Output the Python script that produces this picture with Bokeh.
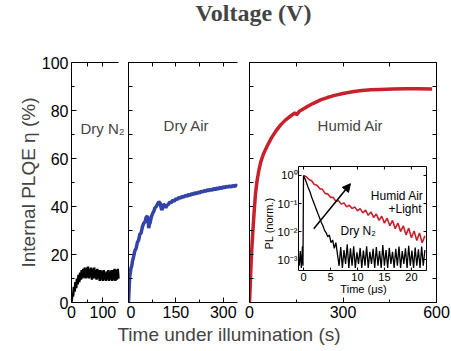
import math
from bokeh.plotting import figure
from bokeh.layouts import row, column
from bokeh.models import Range1d, LogScale, LinearAxis, FixedTicker, Label, Arrow, NormalHead
from bokeh.core.properties import value
from bokeh.embed import file_html
from bokeh.resources import INLINE

# ---------------- data ----------------
n2_t = [0, 2.5, 5, 7.5, 10, 12.5, 15, 17.5, 20, 22.5, 25, 27.5, 30, 32.5, 35, 37.5, 40, 42.5, 45, 47.5,
        50, 52.5, 55, 57.5, 60, 62.5, 65, 67.5, 70, 72.5, 75, 77.5, 80, 82.5, 85, 87.5, 90, 92.5, 95, 97.5,
        100, 102.5, 105, 107.5, 110, 112.5, 115, 117.5, 120, 122.5, 125, 127.5, 130, 132.5, 135, 137.5,
        140, 142.5, 145, 147.5, 150]
n2_eta = [0, 3.5, 2.5, 6.5, 4.5, 8.5, 6, 10, 7.5, 11.5, 8.5, 12.5, 9.5, 13.5, 10, 14, 10.5, 14.5, 10, 14.5,
          10.5, 15, 10, 14, 10.5, 14.5, 9.5, 14, 10, 14.5, 10, 13.5, 9.5, 14, 10, 13.5, 9, 13.5, 9.5, 13,
          9, 13.5, 9.5, 12.5, 9, 13, 9.5, 13.5, 9, 13, 9.5, 13.5, 9, 13.5, 9.5, 14,
          9, 13.5, 9.5, 14, 10]

air_t = [0, 2, 4, 6, 8, 10, 13, 16, 20, 24, 28, 32, 36, 40, 44, 48, 52, 56, 60, 62, 64, 66, 68, 72, 76, 80,
         84, 88, 92, 96, 100, 103, 106, 110, 114, 118, 122, 126, 130, 135, 140, 145, 150, 155, 160, 165,
         170, 175, 180, 185, 190, 195, 200, 205, 210, 215, 220, 225, 230, 235, 240, 245, 250, 255, 260,
         265, 270, 275, 280, 285, 290, 295, 300, 305, 310, 315, 320, 325, 330, 335, 340, 345]
air_eta = [0, 6, 11, 12.5, 14.5, 15, 17.5, 19, 21.5, 22.5, 25, 26, 28.5, 29, 31.5, 33, 33.5, 35.5, 36, 34,
           31, 32.5, 33, 35.5, 37, 38, 39.5, 40, 41, 42, 41.5, 39.5, 38.5, 41, 40.5, 39.5, 40.5, 40.8, 41.8,
           41.5, 42.6, 42.2, 43.2, 43, 43.8, 43.4, 44.3, 43.9, 44.6, 44.3, 45, 44.6, 45.4, 45, 45.7, 45.3,
           46, 45.6, 46.4, 46, 46.7, 46.3, 47, 46.6, 47.2, 46.8, 47.5, 47, 47.7, 47.3, 48, 47.5, 48.2, 47.8,
           48.4, 48, 48.6, 48.1, 48.7, 48.3, 48.9, 48.5]

hum_t = [0, 2, 4, 6, 9, 12, 15, 19, 24, 30, 36, 45, 58, 70, 85, 100, 115, 130, 140, 147, 150, 153, 160,
         175, 190, 205, 230, 250, 270, 300, 330, 360, 390, 420, 460, 500, 540, 586]
hum_eta = [0, 6, 13, 19, 26, 32, 38, 45, 50.5, 55, 58.5, 62, 65.5, 68.5, 71.5, 74, 76, 77.5, 78.5, 79,
           78.2, 78.5, 79.7, 80.8, 82, 83, 84.5, 85.4, 86.2, 87.1, 87.8, 88.3, 88.6, 88.8, 89, 89.1, 89.1, 89]

# inset: PL decay (normalised), time in microseconds
inset_hum_t = [0, 0.5, 1, 1.5, 2, 2.5, 3, 3.5, 4, 4.5, 5, 5.5, 6, 6.5, 7, 7.5, 8, 8.5, 9, 9.5, 10, 10.5,
               11, 11.5, 12, 12.5, 13, 13.5, 14, 14.5, 15, 15.5, 16, 16.5, 17, 17.5, 18, 18.5, 19, 19.5,
               20, 20.5, 21, 21.5, 22, 22.5]
inset_hum_pl = [1.0, 0.91, 0.72, 0.65, 0.48, 0.45, 0.34, 0.32, 0.23, 0.22, 0.166, 0.166, 0.12, 0.126,
                0.095, 0.105, 0.076, 0.087, 0.066, 0.076, 0.055, 0.066, 0.046, 0.058, 0.038, 0.05, 0.032,
                0.042, 0.025, 0.035, 0.02, 0.03, 0.016, 0.025, 0.0126, 0.02, 0.01, 0.016, 0.0076, 0.0132,
                0.006, 0.0105, 0.0048, 0.0089, 0.004, 0.007]
inset_n2_t = [-0.8, -0.6, -0.4, -0.2, -0.1, 0, 0.3, 0.6, 0.9, 1.2, 1.5, 1.8, 2.1, 2.4, 2.7, 3.0, 3.3, 3.6,
              3.9, 4.2, 4.5, 4.8, 5.1, 5.4, 5.7, 6.0, 6.3, 6.6, 6.9, 7.2, 7.5, 7.8, 8.1, 8.4, 8.7, 9.0,
              9.3, 9.6, 9.9, 10.2, 10.5, 10.8, 11.1, 11.4, 11.7, 12.0, 12.3, 12.6, 12.9, 13.2, 13.5, 13.8,
              14.1, 14.4, 14.7, 15.0, 15.3, 15.6, 15.9, 16.2, 16.5, 16.8, 17.1, 17.4, 17.7, 18.0, 18.3,
              18.6, 18.9, 19.2, 19.5, 19.8, 20.1, 20.4, 20.7, 21.0, 21.3, 21.6, 21.9, 22.2, 22.5]
inset_n2_pl = [0.0006, 0.002, 0.0005, 0.003, 0.0006, 1.0, 0.75, 0.52, 0.36, 0.26, 0.17, 0.12, 0.085,
               0.06, 0.042, 0.03, 0.021, 0.016, 0.011, 0.009, 0.0065, 0.0075, 0.004, 0.005, 0.0025, 0.004,
               0.0015, 0.0006, 0.0028, 0.0005, 0.0022, 0.0007, 0.0035, 0.0005, 0.0025, 0.0006, 0.003,
               0.0005, 0.0018, 0.0007, 0.0026, 0.0005, 0.0021, 0.0006, 0.003, 0.0005, 0.0019, 0.0007,
               0.0024, 0.0005, 0.0028, 0.0006, 0.002, 0.0005, 0.0033, 0.0006, 0.0022, 0.0005, 0.0026,
               0.0007, 0.0019, 0.0005, 0.0024, 0.0006, 0.0029, 0.0005, 0.002, 0.0007, 0.0025, 0.0005,
               0.0031, 0.0006, 0.0021, 0.0005, 0.0027, 0.0006, 0.0023, 0.0005, 0.0029, 0.0006, 0.0022]

y_major = [0, 20, 40, 60, 80, 100]
y_minor = [10, 30, 50, 70, 90]
inset_x_ticks = [0, 5, 10, 15, 20]
inset_y_decades = [0, -1, -2, -3]
inset_y_labels = ["10\u2070", "10\u207b\u00b9", "10\u207b\u00b2", "10\u207b\u00b3"]

# ---------------- style ----------------
FONT = "Liberation Sans"
RED = "#c8202c"
BLUE = "#3343a6"
ROW_H = 279


def style(ax, labels=True):
    ax.axis_line_color = "black"
    ax.axis_line_width = 1
    ax.major_tick_in = 5
    ax.major_tick_out = 0
    ax.minor_tick_in = 3
    ax.minor_tick_out = 0
    ax.major_tick_line_color = "black"
    ax.minor_tick_line_color = "black"
    ax.major_label_text_font = FONT
    ax.major_label_text_color = "black"
    ax.major_label_text_font_size = "16px"
    ax.major_label_standoff = 3
    if not labels:
        ax.minor_tick_in = 4
        ax.major_label_standoff = 0


def unlabeled(ticks):
    # ticks only, no labels: every position given as a minor tick
    return FixedTicker(ticks=[], minor_ticks=ticks)


def panel(width, xr, xbounds, xmaj, xmin, bl, br, ylabels, right_axis):
    p = figure(width=width, height=ROW_H, x_range=Range1d(*xr), y_range=Range1d(0, 100),
               output_backend="svg", toolbar_location=None,
               min_border_left=bl, min_border_right=br, min_border_top=17, min_border_bottom=22)
    p.outline_line_color = None
    p.xgrid.grid_line_color = None
    p.ygrid.grid_line_color = None
    p.background_fill_color = "white"
    p.border_fill_color = "white"
    p.xaxis.ticker = FixedTicker(ticks=xmaj, minor_ticks=xmin)
    p.xaxis.bounds = xbounds
    style(p.xaxis[0])
    if ylabels:
        p.yaxis.ticker = FixedTicker(ticks=y_major, minor_ticks=y_minor)
        style(p.yaxis[0], True)
    else:
        p.yaxis.ticker = unlabeled(sorted(y_major + y_minor))
        style(p.yaxis[0], False)
    top = LinearAxis(ticker=unlabeled(sorted(xmaj + xmin)), bounds=xbounds)
    style(top, False)
    p.add_layout(top, "above")
    if right_axis:
        r = LinearAxis(ticker=unlabeled(sorted(y_major + y_minor)))
        style(r, False)
        p.add_layout(r, "right")
    return p


# panel 1 frame runs a little past t=150 (no right spine) so its label fits
p1 = panel(126, (0, 172.3), (0, 150), [0, 100], [50], 71, 1, True, False)
p1.yaxis.axis_label = "Internal PLQE \u03b7 (%)"
p1.yaxis.axis_label_text_font = FONT
p1.yaxis.axis_label_text_font_size = "19px"
p1.yaxis.axis_label_text_font_style = "normal"
p1.yaxis.axis_label_standoff = 0
p1.line(n2_t, n2_eta, color="black", line_width=2.5)
p1.add_layout(Label(x=28.7, y=72.5, text="Dry N\u2082", text_font=FONT, text_font_size="15px",
                    text_baseline="middle", text_align="left"))

p2 = panel(117, (0, 345), (0, 345), [0, 150, 300], [75, 225], 2, 6, False, False)
p2.line(air_t, air_eta, color=BLUE, line_width=3.5)
p2.add_layout(Label(x=183.5, y=73.75, text="Dry Air", text_font=FONT, text_font_size="15px",
                    text_baseline="middle", text_align="center"))

p3 = panel(208, (0, 600), (0, 600), [0, 300, 600], [150, 450], 6, 15, False, True)
p3.line(hum_t, hum_eta, color=RED, line_width=3.5)
p3.add_layout(Label(x=324, y=73.75, text="Humid Air", text_font=FONT, text_font_size="15px",
                    text_baseline="middle", text_align="center"))

# ---------------- inset inside panel 3 ----------------
FL, FR, FT, FB = 249, 436, 62, 302          # main frame in canvas px
IL, IR, IT, IB = 298, 426, 166, 270         # inset box in canvas px
IX0, IX1 = -0.93, 22.8                      # inset x extent (us)
ID0, ID1 = -3.39, 0.32                      # inset y extent (decades)
ppx = (IR - IL) / (IX1 - IX0)
ppd = (IB - IT) / (ID1 - ID0)
p3.extra_x_ranges = {"ix": Range1d(IX0 - (IL - FL) / ppx, IX1 + (FR - IR) / ppx)}
p3.extra_y_ranges = {"iy": Range1d(10 ** (ID0 - (FB - IB) / ppd), 10 ** (ID1 + (IT - FT) / ppd))}
p3.extra_y_scales = {"iy": LogScale()}


def ix(px):
    return IX0 + (px - IL) / ppx


def iy(py):
    return 10 ** (ID1 - (py - IT) / ppd)


kw = dict(x_range_name="ix", y_range_name="iy")
p3.quad(left=[IX0], right=[IX1], bottom=[10 ** ID0], top=[10 ** ID1], fill_color="white",
        line_color="black", line_width=1, **kw)
p3.line(inset_hum_t, inset_hum_pl, color=RED, line_width=1.6, **kw)
p3.line(inset_n2_t, inset_n2_pl, color="black", line_width=1.3, **kw)

# inset ticks
dec_vals = [10 ** d for d in inset_y_decades]
p3.segment(x0=[IX0] * 4, x1=[ix(IL + 3)] * 4, y0=dec_vals, y1=dec_vals, color="black", line_width=1, **kw)
p3.segment(x0=[IX1] * 4, x1=[ix(IR - 3)] * 4, y0=dec_vals, y1=dec_vals, color="black", line_width=1, **kw)
p3.segment(x0=inset_x_ticks, x1=inset_x_ticks, y0=[10 ** ID0] * 5, y1=[iy(IB - 3)] * 5,
           color="black", line_width=1, **kw)
p3.segment(x0=inset_x_ticks, x1=inset_x_ticks, y0=[10 ** ID1] * 5, y1=[iy(IT + 3)] * 5,
           color="black", line_width=1, **kw)

# inset tick labels and titles
p3.text(x=[ix(IL - 1)] * 4, y=dec_vals, text=inset_y_labels, text_align="right", text_baseline="middle",
        text_font=value(FONT), text_font_size=value("11px"), text_color="black", **kw)
p3.text(x=inset_x_ticks, y=[iy(IB + 2)] * 5, text=[str(v) for v in inset_x_ticks], text_align="center",
        text_baseline="top", text_font=value(FONT), text_font_size=value("11px"), text_color="black", **kw)
p3.text(x=[ix(363)], y=[iy(288)], text=["Time (\u03bcs)"], text_align="center", text_baseline="middle",
        text_font=value(FONT), text_font_size=value("11px"), text_color="black", **kw)
p3.text(x=[ix(268)], y=[iy(223)], text=["PL (norm.)"], angle=math.pi / 2, text_align="center",
        text_baseline="middle", text_font=value(FONT), text_font_size=value("11px"), text_color="black", **kw)
p3.text(x=[ix(423), ix(421)], y=[iy(195), iy(208)], text=["Humid Air", "+Light"], text_align="right",
        text_baseline="middle", text_font=value(FONT), text_font_size=value("12px"), text_color="black", **kw)
p3.text(x=[ix(340)], y=[iy(230)], text=["Dry N\u2082"], text_align="left",
        text_baseline="middle", text_font=value(FONT), text_font_size=value("12px"), text_color="black", **kw)

p3.add_layout(Arrow(x_start=1.9, y_start=0.0126, x_end=8.7, y_end=0.51, line_width=1.5, line_color="black",
                    end=NormalHead(size=8, fill_color="black", line_color="black"), **kw))


# ---------------- top and bottom strips ----------------
def strip(h):
    s = figure(width=451, height=h, x_range=Range1d(0, 451), y_range=Range1d(0, h),
               output_backend="svg", toolbar_location=None, min_border=0,
               x_axis_location=None, y_axis_location=None)
    s.outline_line_color = None
    s.xgrid.grid_line_color = None
    s.ygrid.grid_line_color = None
    return s


top = strip(45)
top.add_layout(Label(x=253, y=33, text="Voltage (V)", text_align="center", text_baseline="alphabetic",
                     text_font="Liberation Serif", text_font_style="bold", text_font_size="24px"))
bottom = strip(27)
bottom.add_layout(Label(x=228.5, y=17, text="Time under illumination (s)", text_align="center",
                        text_baseline="alphabetic", text_font=FONT, text_font_size="19px"))

layout = column(top, row(p1, p2, p3), bottom)
open("out.html", "w").write(file_html(layout, INLINE))
